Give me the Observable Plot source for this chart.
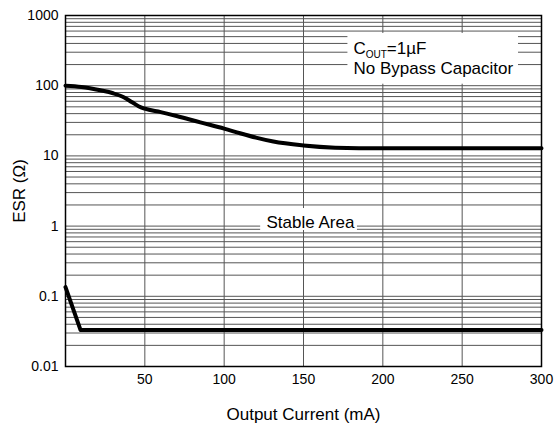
<!DOCTYPE html>
<html>
<head>
<meta charset="utf-8">
<script src="https://cdn.jsdelivr.net/npm/d3@7"></script>
<script src="https://cdn.jsdelivr.net/npm/@observablehq/plot@0.6"></script>
<style>
  html, body { margin: 0; padding: 0; background: white; }
  #chart { width: 554px; height: 427px; }
</style>
</head>
<body>
<div id="chart"></div>
<script>
// ---- data ----
const xTicks = [50, 100, 150, 200, 250, 300];
const xTickLabels = ["50", "100", "150", "200", "250", "300"];
const yTicks = [0.01, 0.1, 1, 10, 100, 1000];
const yTickLabels = ["0.01", "0.1", "1", "10", "100", "1000"];

// upper stability boundary (ESR, ohm) vs output current (mA)
const upperX = [0, 10, 22, 30, 37, 42, 46, 50, 60, 70, 85, 100, 110, 120, 131, 150, 170, 185, 200, 300];
const upperY = [100, 96, 86, 78, 68, 58, 51, 47, 42, 37, 30, 24.5, 21, 18.2, 16, 14.1, 13.1, 12.9, 12.9, 12.9];
// lower stability boundary
const lowerX = [0, 9.5, 300];
const lowerY = [0.135, 0.033, 0.033];

// annotations (data units)
const legendBox = {x1: 178, x2: 285.5, y1: 105, y2: 555};
const legendLines = [
  {x: 181.5, y: 339, text: "COUT=1µF"},
  {x: 181.5, y: 174, text: "No Bypass Capacitor"}
];
const stableBox = {x1: 123, x2: 184, y1: 0.865, y2: 1.78};
const stableLabel = {x: 154.4, y: 1.14, text: "Stable Area"};

const xLabel = "Output Current (mA)";
const yLabel = "ESR (Ω)";

// ---- derived ----
const upper = upperX.map((x, i) => ({x, y: upperY[i]}));
const lower = lowerX.map((x, i) => ({x, y: lowerY[i]}));
const gridY = yTicks.slice(0, -1).flatMap(d => [1,2,3,4,5,6,7,8,9].map(k => d * k)).filter(v => v > 0.01);
const gridX = xTicks.filter(v => v < 300);

const font = "'Liberation Sans', Arial, Helvetica, sans-serif";

const chart = Plot.plot({
  width: 554,
  height: 427,
  marginLeft: 65,
  marginRight: 13,
  marginTop: 15,
  marginBottom: 61,
  style: {fontFamily: font, background: "white", color: "black"},
  x: {domain: [0, 300]},
  y: {type: "log", domain: [0.01, 1000]},
  marks: [
    Plot.ruleY(gridY, {stroke: "#555", strokeWidth: 1}),
    Plot.ruleX(gridX, {stroke: "#555", strokeWidth: 1}),
    Plot.rect([legendBox], {x1: "x1", x2: "x2", y1: "y1", y2: "y2", fill: "white"}),
    Plot.rect([stableBox], {x1: "x1", x2: "x2", y1: "y1", y2: "y2", fill: "white"}),
    Plot.text(legendLines, {x: "x", y: "y", text: "text", textAnchor: "start", fontSize: 17, fill: "black"}),
    Plot.text([stableLabel], {x: "x", y: "y", text: "text", fontSize: 17, fill: "black"}),
    Plot.line(upper, {x: "x", y: "y", stroke: "black", strokeWidth: 4, curve: "monotone-x"}),
    Plot.line(lower, {x: "x", y: "y", stroke: "black", strokeWidth: 4}),
    Plot.frame({stroke: "black", strokeWidth: 1.5}),
    Plot.axisX({ticks: xTicks, tickFormat: d => xTickLabels[xTicks.indexOf(d)], tickSize: 0, tickPadding: 8, fontSize: 14, label: null}),
    Plot.axisY({ticks: yTicks, tickFormat: d => yTickLabels[yTicks.indexOf(d)], tickSize: 0, tickPadding: 7, fontSize: 14, label: null}),
    Plot.text([xLabel], {frameAnchor: "bottom", textAnchor: "middle", lineAnchor: "middle", dy: 48, fontSize: 17, fill: "black"}),
    Plot.text([yLabel], {frameAnchor: "left", textAnchor: "middle", lineAnchor: "middle", dx: -46, rotate: -90, fontSize: 17, fill: "black"})
  ]
});

document.getElementById("chart").appendChild(chart);

// subscript for C_OUT
d3.select(chart).selectAll("text").each(function() {
  if (this.textContent === "COUT=1µF") {
    const t = d3.select(this);
    t.text(null);
    t.append("tspan").text("C");
    t.append("tspan").attr("dy", "4").attr("font-size", "10").text("OUT");
    t.append("tspan").attr("dy", "-4").text("=1µF");
  }
});
</script>
</body>
</html>
